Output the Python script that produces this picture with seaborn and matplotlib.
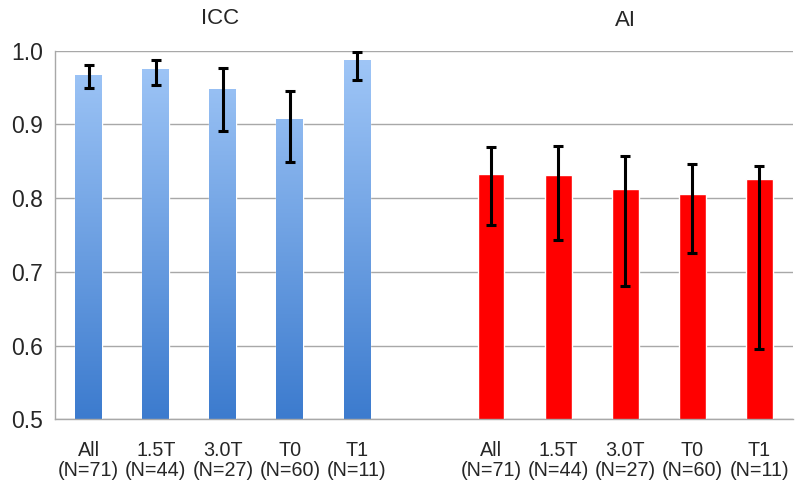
import numpy as np
import pandas as pd
import matplotlib
matplotlib.use("Agg")
import matplotlib.pyplot as plt
import seaborn as sns
from matplotlib.colors import LinearSegmentedColormap

# ---- data ----
groups = ["ICC", "AI"]
subsets = ["All\n(N=71)", "1.5T\n(N=44)", "3.0T\n(N=27)", "T0\n(N=60)", "T1\n(N=11)"]
icc_values = [0.967, 0.975, 0.948, 0.907, 0.988]
icc_upper = [0.981, 0.987, 0.977, 0.945, 0.998]
icc_lower = [0.949, 0.954, 0.891, 0.849, 0.960]
ai_values = [0.833, 0.832, 0.812, 0.805, 0.826]
ai_upper = [0.869, 0.871, 0.857, 0.846, 0.844]
ai_lower = [0.764, 0.743, 0.681, 0.726, 0.595]
y_ticks = [0.5, 0.6, 0.7, 0.8, 0.9, 1.0]

sns.set_theme(style="white")
plt.rcParams["font.family"] = ["Liberation Sans", "DejaVu Sans"]

keys_icc = [f"ICC|{s}" for s in subsets]
keys_ai = [f"AI|{s}" for s in subsets]
order = keys_icc + ["gap"] + keys_ai
df = pd.DataFrame({
    "key": keys_icc + keys_ai,
    "value": icc_values + ai_values,
    "group": ["ICC"] * 5 + ["AI"] * 5,
})
lower = icc_lower + ai_lower
upper = icc_upper + ai_upper

fig = plt.figure(figsize=(8, 4.88), dpi=100)
ax = fig.add_axes([0.069, 0.141, 0.922, 0.755])

sns.barplot(data=df, x="key", y="value", hue="group", order=order,
            palette={"ICC": "#6FA3E6", "AI": "#FF0000"}, dodge=False,
            width=0.40, legend=False, ax=ax, saturation=1, zorder=2)

ax.set_ylim(0.5, 1.0)
ax.set_xlim(-0.5, len(order) - 0.5)

# gradient fill for ICC bars
cmap = LinearSegmentedColormap.from_list("icc", ["#3C7BCE", "#A2C8F8"])
grad = np.linspace(0, 1, 256).reshape(-1, 1)
for p in ax.patches:
    fc = p.get_facecolor()
    if fc[2] > 0.5 and fc[0] < 0.6:
        x0, y0 = p.get_x(), p.get_y()
        w, h = p.get_width(), p.get_height()
        if h <= 0:
            continue
        im = ax.imshow(grad, cmap=cmap, origin="lower", aspect="auto",
                       extent=[x0, x0 + w, 0.5, 1.0], zorder=2.1)
        im.set_clip_path(p)

# error bars
xs_pos = [order.index(k) for k in df["key"]]
vals = df["value"].to_numpy()
yerr = np.array([vals - np.array(lower), np.array(upper) - vals])
ax.errorbar(xs_pos, vals, yerr=yerr, fmt="none", ecolor="black",
            elinewidth=2.2, capsize=3.5, capthick=2.2, zorder=4)

# grid and axes styling
ax.set_yticks(y_ticks)
ax.set_yticklabels([f"{t:.1f}" for t in y_ticks], fontsize=16.5)
ax.yaxis.grid(True, color="#A8A8A8", linewidth=1.0, zorder=0)
ax.set_axisbelow(True)
ax.set_xticks([i for i in range(len(order))])
labels = [k.split("|")[1] if "|" in k else "" for k in order]
ax.set_xticklabels(labels, fontsize=14.2, linespacing=1.05)
ax.tick_params(axis="x", which="major", length=0, pad=16)
ax.set_xticks([i - 0.5 for i in range(len(order) + 1)], minor=True)
ax.tick_params(axis="x", which="minor", length=5, color="#A8A8A8", width=1)
ax.tick_params(axis="y", length=5, color="#A8A8A8", width=1, pad=4)
ax.set_xlabel("")
ax.set_ylabel("")
for side in ["top", "right"]:
    ax.spines[side].set_visible(False)
for side in ["left", "bottom"]:
    ax.spines[side].set_color("#A8A8A8")
    ax.spines[side].set_linewidth(1.0)

# group titles
fig.text(220 / 800, 1 - 19 / 488, "ICC", ha="center", va="center", fontsize=16)
fig.text(625 / 800, 1 - 21 / 488, "AI", ha="center", va="center", fontsize=16)

fig.savefig("out.png", dpi=100)
